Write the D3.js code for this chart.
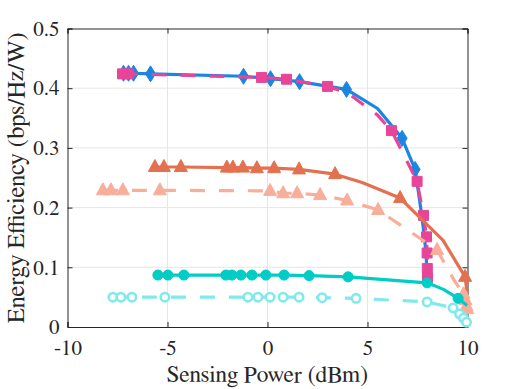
<!DOCTYPE html>
<html>
<head>
<meta charset="utf-8">
<script src="https://cdn.jsdelivr.net/npm/d3@7"></script>
<style>
  body { margin: 0; background: #fff; }
</style>
</head>
<body>
<div id="chart"></div>
<script>
// sensing power (dBm) / energy efficiency, one pair of arrays per curve
const blueX = [-7.2, -6.95, -6.7, -5.85, -1.2, 0.15, 1.6, 3.95, 5.5, 6.73, 7.38, 7.7, 7.85, 7.93, 7.97, 7.98];
const blueY = [0.425, 0.425, 0.425, 0.424, 0.420, 0.416, 0.411, 0.398, 0.366, 0.316, 0.264, 0.190, 0.150, 0.120, 0.095, 0.085];
const blueMarks = [0, 1, 2, 3, 4, 5, 6, 7, 9, 10];

const pinkX = [-7.25, -6.95, -0.3, 0.95, 3.0, 4.0, 5.5, 6.2, 7.48, 7.8, 7.95, 7.98, 7.99, 8.0];
const pinkY = [0.424, 0.424, 0.418, 0.415, 0.403, 0.392, 0.355, 0.329, 0.244, 0.187, 0.151, 0.124, 0.098, 0.082];
const pinkMarks = [0, 1, 2, 3, 4, 7, 8, 9, 10, 11, 12, 13];

const orangeX = [-5.63, -5.18, -4.33, -2.03, -1.73, -1.23, -0.53, 0.33, 1.58, 3.38, 4.73, 6.63, 8.78, 9.88, 9.97];
const orangeY = [0.268, 0.268, 0.268, 0.267, 0.267, 0.267, 0.266, 0.266, 0.264, 0.256, 0.242, 0.216, 0.145, 0.084, 0.060];
const orangeMarks = [0, 1, 2, 3, 4, 5, 6, 7, 8, 9, 11, 13];

const salmonX = [-8.23, -7.83, -7.23, -5.38, 0.13, 0.78, 1.48, 2.63, 3.98, 5.53, 8.48, 9.3, 9.8, 9.9, 9.95, 9.98];
const salmonY = [0.229, 0.229, 0.229, 0.229, 0.228, 0.224, 0.224, 0.221, 0.212, 0.196, 0.129, 0.080, 0.055, 0.045, 0.035, 0.030];
const salmonMarks = [0, 1, 2, 3, 4, 5, 6, 7, 8, 9, 10, 12, 13, 14, 15];

const tealX = [-5.48, -4.98, -4.18, -2.08, -1.78, -1.33, -0.78, -0.08, 0.83, 2.08, 4.03, 7.98, 8.8, 9.53, 9.98];
const tealY = [0.087, 0.087, 0.087, 0.087, 0.087, 0.087, 0.087, 0.087, 0.087, 0.086, 0.084, 0.074, 0.063, 0.048, 0.036];
const tealMarks = [0, 1, 2, 3, 4, 5, 6, 7, 8, 9, 10, 11, 13];

const cyanX = [-7.73, -7.33, -6.78, -5.13, -0.98, -0.48, 0.13, 0.78, 1.58, 2.73, 4.43, 7.98, 9.28, 9.6, 9.8, 9.95];
const cyanY = [0.050, 0.050, 0.050, 0.050, 0.050, 0.050, 0.050, 0.050, 0.050, 0.049, 0.048, 0.042, 0.032, 0.022, 0.015, 0.008];
const cyanMarks = [0, 1, 2, 3, 4, 5, 6, 7, 8, 9, 10, 11, 12, 13, 14, 15];

const xTicks = [-10, -5, 0, 5, 10];
const yTicks = [0, 0.1, 0.2, 0.3, 0.4, 0.5];

const width = 518, height = 389;
const margin = {left: 67.5, right: 50.5, top: 28.5, bottom: 62};
const axCol = "#262626";
const font = '"LiberationSerif", "FreeSerif", serif';

const svg = d3.select("#chart").append("svg")
  .attr("width", width).attr("height", height);

const x = d3.scaleLinear().domain([-10, 10]).range([margin.left, width - margin.right]);
const y = d3.scaleLinear().domain([0, 0.5]).range([height - margin.bottom, margin.top]);

// grid
svg.append("g").selectAll("line").data(xTicks.slice(1, -1)).enter().append("line")
  .attr("x1", d => x(d)).attr("x2", d => x(d))
  .attr("y1", y(0)).attr("y2", y(0.5))
  .attr("stroke", "#e6e6e6");
svg.append("g").selectAll("line").data(yTicks.slice(1, -1)).enter().append("line")
  .attr("x1", x(-10)).attr("x2", x(10))
  .attr("y1", d => y(d)).attr("y2", d => y(d))
  .attr("stroke", "#e6e6e6");

// axes, ticks pointing inward, box on all four sides
const gx = svg.append("g").attr("transform", `translate(0,${y(0)})`)
  .call(d3.axisBottom(x).tickValues(xTicks).tickSize(-5).tickPadding(13).tickFormat(d => String(d)));
const gxTop = svg.append("g").attr("transform", `translate(0,${y(0.5)})`)
  .call(d3.axisTop(x).tickValues(xTicks).tickSize(-5).tickFormat(""));
const gy = svg.append("g").attr("transform", `translate(${x(-10)},0)`)
  .call(d3.axisLeft(y).tickValues(yTicks).tickSize(-5).tickPadding(8).tickFormat(d => d === 0 ? "0" : d3.format(".1f")(d)));
const gyR = svg.append("g").attr("transform", `translate(${x(10)},0)`)
  .call(d3.axisRight(y).tickValues(yTicks).tickSize(-5).tickFormat(""));
[gx, gxTop, gy, gyR].forEach(g => {
  g.select(".domain").attr("stroke", axCol);
  g.selectAll(".tick line").attr("stroke", axCol);
  g.selectAll(".tick text")
    .attr("fill", axCol)
    .style("font-family", font)
    .style("font-size", "21px");
});

// curves
const line = d3.line().x(d => x(d[0])).y(d => y(d[1]));

const sym = {
  diamond: "M0,-8L5,0L0,8L-5,0Z",
  square: "M-5,-5H5V5H-5Z",
  triangle: "M0,-7.5L6.5,4.5H-6.5Z",
  circle: d3.symbol(d3.symbolCircle, 80)(),
  ocircle: d3.symbol(d3.symbolCircle, 55)()
};

const series = [
  {xs: blueX, ys: blueY, marks: blueMarks, color: "#1a86e0", dash: null, m: "diamond", open: false},
  {xs: pinkX, ys: pinkY, marks: pinkMarks, color: "#e8459a", dash: "15,14", m: "square", open: false},
  {xs: orangeX, ys: orangeY, marks: orangeMarks, color: "#e37150", dash: null, m: "triangle", open: false},
  {xs: salmonX, ys: salmonY, marks: salmonMarks, color: "#f8ae9b", dash: "15,14", m: "triangle", open: false},
  {xs: tealX, ys: tealY, marks: tealMarks, color: "#00cdc5", dash: null, m: "circle", open: false},
  {xs: cyanX, ys: cyanY, marks: cyanMarks, color: "#80eaea", dash: "15,14", m: "ocircle", open: true}
];

series.forEach(s => {
  const pts = s.xs.map((v, i) => [v, s.ys[i]]);
  const g = svg.append("g");
  g.append("path").datum(pts)
    .attr("d", line)
    .attr("fill", "none")
    .attr("stroke", s.color)
    .attr("stroke-width", 3.2)
    .attr("stroke-linejoin", "round")
    .attr("stroke-dasharray", s.dash);
  g.selectAll("path.mk").data(s.marks.map(i => pts[i])).enter().append("path")
    .attr("class", "mk")
    .attr("transform", d => `translate(${x(d[0])},${y(d[1])})`)
    .attr("d", sym[s.m])
    .attr("fill", s.open ? "#fff" : s.color)
    .attr("stroke", s.color)
    .attr("stroke-width", s.open ? 2.6 : 1);
});

// axis titles
svg.append("text")
  .attr("x", (x(-10) + x(10)) / 2).attr("y", 382)
  .attr("text-anchor", "middle")
  .attr("fill", axCol)
  .style("font-family", font)
  .style("font-size", "23.5px")
  .text("Sensing Power (dBm)");
svg.append("text")
  .attr("transform", `translate(24,${(y(0) + y(0.5)) / 2}) rotate(-90)`)
  .attr("text-anchor", "middle")
  .attr("fill", axCol)
  .style("font-family", font)
  .style("font-size", "24.5px")
  .text("Energy Efficiency (bps/Hz/W)");
</script>
</body>
</html>
